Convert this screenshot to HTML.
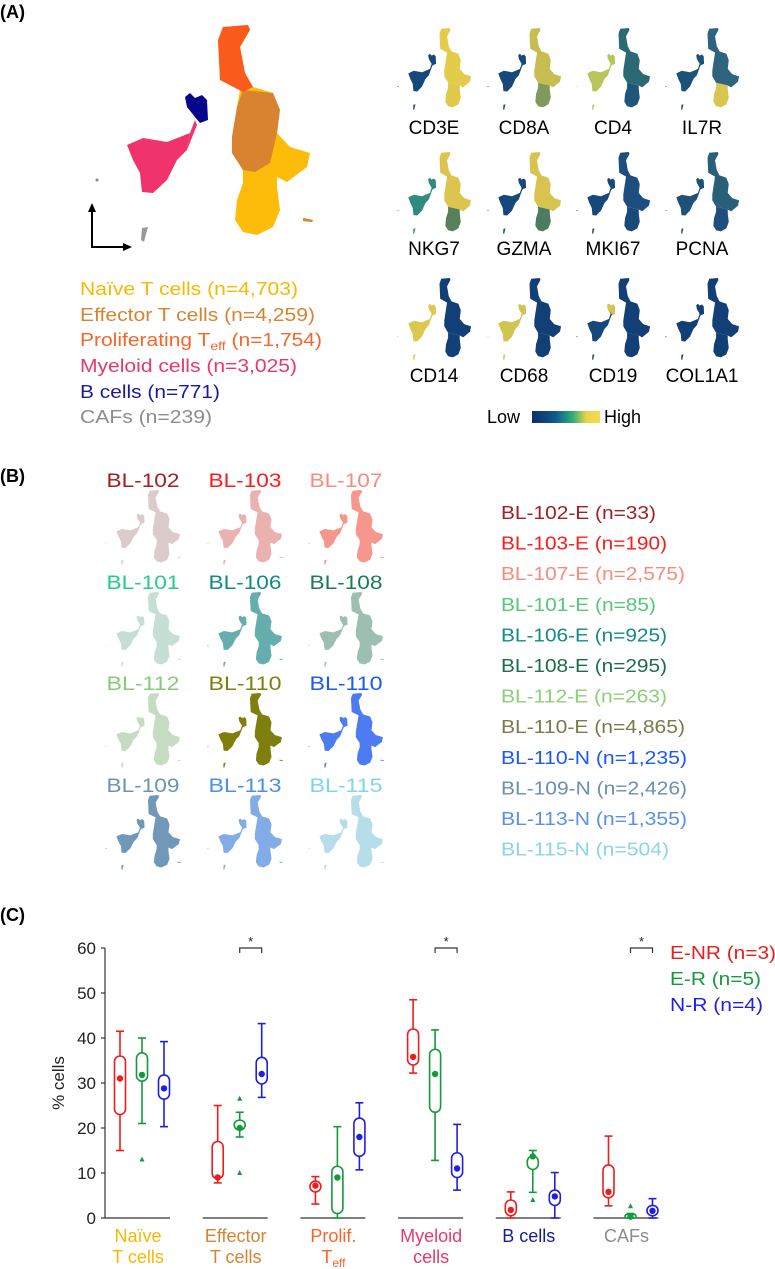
<!DOCTYPE html>
<html><head><meta charset="utf-8"><style>
html,body{margin:0;padding:0;background:#fff}
svg{display:block;font-family:"Liberation Sans",Arial,sans-serif}
</style></head><body>
<svg id="fig" width="775" height="1269" viewBox="0 0 775 1269">
<defs>
<linearGradient id="cb" x1="0" x2="1" y1="0" y2="0">
<stop offset="0" stop-color="#0b2f6a"/><stop offset="0.35" stop-color="#0d5b8c"/><stop offset="0.6" stop-color="#2fae78"/><stop offset="0.8" stop-color="#e8d448"/><stop offset="1" stop-color="#f6dc4c"/>
</linearGradient>
<symbol id="tb" overflow="visible"><path d="M223,27 L248,25 L250,30 L240,47 L245,73 L253,87 L273,93 L280,110 L277,133 L290,147 L310,153 L307,167 L287,182 L277,177 L277,187 L280,210 L273,227 L257,235 L243,232 L235,220 L237,200 L243,183 L243,170 L232,153 L232,137 L237,107 L240,90 L220,80 L218,40 Z"/><path d="M303,218 L313,220 L312,222 L303,221Z"/></symbol>
<symbol id="my" overflow="visible"><path d="M127,145 L143,138 L167,142 L180,137 L190,133 L195,120 L187,107 L185,97 L190,93 L195,98 L202,95 L207,100 L208,120 L200,123 L197,125 L187,150 L177,160 L167,180 L153,193 L142,192 L140,173 L133,160 Z"/><circle cx="97" cy="180" r="1.5"/><path d="M142,228 L148,227 L146,234 L144,242 L141,240Z"/></symbol>
<symbol id="pat" overflow="visible"><path d="M127,145 L143,138 L167,142 L180,137 L190,133 L187,150 L177,160 L167,180 L153,193 L142,192 L140,173 L133,160 Z"/></symbol>
<symbol id="nav" overflow="visible"><path d="M185,97 L190,93 L195,98 L202,95 L207,100 L208,120 L200,123 L195,117 L187,107 Z"/></symbol>
<symbol id="up" overflow="visible"><path d="M223,27 L248,25 L250,30 L240,47 L245,73 L253,87 L273,93 L280,110 L277,133 L290,147 L310,153 L307,167 L287,182 L277,177 L243,170 L232,153 L232,137 L237,107 L240,90 L220,80 L218,40 Z"/></symbol>
<symbol id="low" overflow="visible"><path d="M277,177 L277,187 L280,210 L273,227 L257,235 L243,232 L235,220 L237,200 L243,183 L243,170 Z"/></symbol>
</defs>

<text x="0" y="18" font-size="18" font-weight="bold">(A)</text>
<text x="0" y="482" font-size="18" font-weight="bold">(B)</text>
<text x="0" y="921" font-size="18" font-weight="bold">(C)</text>

<g>
<use href="#tb" fill="#fdbb0a"/>
<path d="M243,90 L273,93 L280,110 L277,133 L270,163 L255,172 L243,170 L232,153 L232,137 L237,107Z" fill="#d7832f"/>
<path d="M223,27 L248,25 L250,30 L240,47 L245,73 L253,87 L243,92 L220,80 L218,40 Z" fill="#fa5b1c"/>
<path d="M303,218 L313,220 L312,222 L303,221Z" fill="#d7832f"/>
<use href="#pat" fill="#f0336c"/>
<path d="M190,133 L195,120 L197,125 L187,150Z" fill="#f0336c"/>
<use href="#nav" fill="#06068c"/>
<circle cx="97" cy="180" r="1.5" fill="#888"/>
<path d="M142,228 L148,227 L146,234 L144,242 L141,240Z" fill="#999"/>
</g>
<g stroke="#000" stroke-width="2" fill="#000">
<path d="M92,211 L92,247 L126,247" fill="none"/>
<path d="M92,203 L88,212 L96,212Z" stroke="none"/>
<path d="M132,247 L123,243 L123,251Z" stroke="none"/>
</g>
<g font-size="18">
<text x="80" y="295" fill="#f9b800" textLength="218" lengthAdjust="spacingAndGlyphs">Naïve T cells (n=4,703)</text>
<text x="80" y="321" fill="#d7832f" textLength="235" lengthAdjust="spacingAndGlyphs">Effector T cells (n=4,259)</text>
<text x="80" y="346" fill="#f7652a" textLength="242" lengthAdjust="spacingAndGlyphs">Proliferating T<tspan font-size="12" dy="4">eff</tspan><tspan dy="-4"> (n=1,754)</tspan></text>
<text x="80" y="372" fill="#e8386b" textLength="217" lengthAdjust="spacingAndGlyphs">Myeloid cells (n=3,025)</text>
<text x="80" y="398" fill="#1a1a9a" textLength="140" lengthAdjust="spacingAndGlyphs">B cells (n=771)</text>
<text x="80" y="423" fill="#8c8c8c" textLength="132" lengthAdjust="spacingAndGlyphs">CAFs (n=239)</text>
</g>

<g id="genes"></g>
<g>
<text x="487" y="423" font-size="18">Low</text>
<rect x="532" y="411" width="68" height="12" fill="url(#cb)"/>
<text x="604" y="423" font-size="18">High</text>
</g>

<g id="samples"></g>
<g id="slegend"></g>

<g id="chart"></g>

<script>
var NS="http://www.w3.org/2000/svg";
function mk(tag,attrs,parent){var e=document.createElementNS(NS,tag);for(var k in attrs)e.setAttribute(k,attrs[k]);parent.appendChild(e);return e;}

/* ---- Panel A gene plots ---- */
var geneNames=["CD3E","CD8A","CD4","IL7R","NKG7","GZMA","MKI67","PCNA","CD14","CD68","CD19","COL1A1"];
var geneUp=["#e3cc4a","#c8bd50","#2b6a72","#2f6480","#dcc54e","#d8c34e","#1d4f7e","#2a5f7a","#123f75","#123f75","#123f75","#123f75"];
var geneLow=["#e0c84a","#7f9a5c","#1f5578","#d9c650","#587f5c","#4d7a62","#1a4a7a","#1f4f7c","#123f75","#123f75","#123f75","#123f75"];
var geneMy=["#17487a","#17487a","#b9c45a","#1c5279","#2f8a80","#17487a","#17487a","#1f5078","#dcc84e","#d2c450","#17487a","#123f75"];
var gg=document.getElementById("genes");
var gx=[398,488,577,666],gy=[28,152,278],gl=[134,255,382];
for(var i=0;i<12;i++){
  var c=i%4,r=Math.floor(i/4);
  var g=mk("g",{transform:"translate("+gx[c]+","+gy[r]+") scale(0.343,0.378) translate(-97,-25)"},gg);
  
  
  mk("use",{href:"#my",fill:geneMy[i]},g);
  mk("use",{href:"#up",fill:geneUp[i]},g);
  mk("use",{href:"#low",fill:geneLow[i]},g);
  if(i==10){mk("use",{href:"#nav",fill:"#d8c44a"},g);}
  var t=mk("text",{x:gx[c]+36,y:gl[r],"font-size":"19","text-anchor":"middle"},gg);
  
  
  t.textContent=geneNames[i];
}

/* ---- Panel B samples ---- */
var sampNames=["BL-102","BL-103","BL-107","BL-101","BL-106","BL-108","BL-112","BL-110","BL-110","BL-109","BL-113","BL-115"];
var sampColors=["#a31e22","#ff1a1a","#f98a7e","#22cc88","#138a8a","#1b7a52","#86cc78","#7f7f0e","#1b58f5","#6a93b5","#4d8fe8","#7fd4f2"];
var sampCover=[0.12,0.25,0.85,0.15,0.6,0.35,0.3,1.0,0.75,0.95,0.65,0.45];
var legNames=["BL-102-E (n=33)","BL-103-E (n=190)","BL-107-E (n=2,575)","BL-101-E (n=85)","BL-106-E (n=925)","BL-108-E (n=295)","BL-112-E (n=263)","BL-110-E (n=4,865)","BL-110-N (n=1,235)","BL-109-N (n=2,426)","BL-113-N (n=1,355)","BL-115-N (n=504)"];
var legColors=["#a31e22","#ff1a1a","#f98a7e","#55c87a","#138a8a","#1b6e48","#8ccf7a","#7a7a4a","#1b58f5","#6a8fb0","#5a90e6","#8ad4f0"];
var legWidth=[155,166,184,155,166,166,166,184,186,186,186,168];
var sg=document.getElementById("samples");
var sx=[106,208,309],sy=[490,592,693,795],sl=[487,589,690,792],sc=[143,245,346];
for(var i=0;i<12;i++){
  var c=i%3,r=Math.floor(i/3);
  var t=mk("text",{x:sc[c],y:sl[r],"font-size":"19","text-anchor":"middle",fill:sampColors[i],textLength:"73",lengthAdjust:"spacingAndGlyphs"},sg);
  
  
  t.textContent=sampNames[i];
  var g=mk("g",{transform:"translate("+sx[c]+","+sy[r]+") scale(0.347,0.345) translate(-97,-25)"},sg);
  
  
  mk("use",{href:"#tb",fill:"#e3e3e3"},g);
  mk("use",{href:"#my",fill:"#e3e3e3"},g);
  mk("use",{href:"#tb",fill:sampColors[i],"fill-opacity":sampCover[i]},g);
  mk("use",{href:"#my",fill:sampColors[i],"fill-opacity":sampCover[i]},g);
}
var lg=document.getElementById("slegend");
for(var i=0;i<12;i++){
  var t=mk("text",{x:501,y:519+30.6*i,"font-size":"18",fill:legColors[i],textLength:legWidth[i],lengthAdjust:"spacingAndGlyphs"},lg);
  
  
  t.textContent=legNames[i];
}
</script>

<script>
/* ---- Panel C box chart data ---- */
var categories=["Naïve|T cells","Effector|T cells","Prolif.|Teff","Myeloid|cells","B cells|","CAFs|"];
var catColors=["#f9b800","#d7832f","#f7652a","#e8386b","#1a1a9a","#8c8c8c"];
var seriesNames=["E-NR (n=3)","E-R (n=5)","N-R (n=4)"];
var seriesColors=["#ee1c1c","#159a3a","#1f1fe0"];
var yTicks=[0,10,20,30,40,50,60];
// whisker low, q1, q3, whisker high, mean per category
var enrLow=[15,7.8,3.1,32.2,0,2.7], enrQ1=[23,8.7,5.8,34,0.5,4.5], enrQ3=[36,17,8.2,42,4,11.8], enrHigh=[41.5,25,9.2,48.5,5.8,18.2], enrMean=[31,9,7.2,35.8,1.8,5.8];
var erLow=[21,18,0,12.8,5.7,0], erQ1=[30.4,19.6,1,23.5,10.8,0], erQ3=[36.7,21.7,11.5,37.5,13.8,0.8], erHigh=[40,23.5,20.3,41.8,15,1], erMean=[31.8,20,9,32,13.7,0.3];
var nrLow=[20.3,26.8,10.7,6.2,0,0], nrQ1=[26.4,29.8,13.7,9,2.8,0.5], nrQ3=[31.8,35.7,22.2,14.5,6.2,2.8], nrHigh=[39.2,43.2,25.6,20.8,10.1,4.3], nrMean=[28.8,32,18,11,4.8,1.6];
var erOutliers=[[13],[26.5,10],[],[],[4],[2.6]];
var sigCats=[1,3,5];

(function(){
var NS="http://www.w3.org/2000/svg";
var ch=document.getElementById("chart");
function mk(tag,attrs,par){var e=document.createElementNS(NS,tag);for(var k in attrs)e.setAttribute(k,attrs[k]);(par||ch).appendChild(e);return e;}
var yBase=1218,yTop=948,yMax=60;
function Y(v){return yBase-(v/yMax)*(yBase-yTop);}
function gX(i){return 105+i*97.7;}
var offs=[15,37,59];
var ax=mk("line",{x1:105,y1:Y(0),x2:105,y2:Y(yMax),stroke:"#333","stroke-width":"1.2"});


yTicks.forEach(function(v){
  var tk=mk("line",{x1:101,x2:105,y1:Y(v),y2:Y(v),stroke:"#333","stroke-width":"1.2"});
  
  
  var t=mk("text",{x:96,y:Y(v)+6,"font-size":"17","text-anchor":"end",fill:"#222"});
  
  
  t.textContent=v;
});
var yl=mk("text",{x:0,y:0,"font-size":"17","text-anchor":"middle",transform:"translate(64,1083) rotate(-90)",fill:"#222"});


yl.textContent="% cells";
var S=[[enrLow,enrQ1,enrQ3,enrHigh,enrMean],[erLow,erQ1,erQ3,erHigh,erMean],[nrLow,nrQ1,nrQ3,nrHigh,nrMean]];
categories.forEach(function(cat,i){
  var x0=gX(i);
  var bl=mk("line",{x1:x0,x2:x0+65,y1:Y(0),y2:Y(0),stroke:"#333","stroke-width":"1.2"});
  
  
  var parts=cat.split("|");
  var cx=x0+33;
  var t1=mk("text",{x:cx,y:1242,"font-size":"18","text-anchor":"middle",fill:catColors[i]});
  
  
  t1.textContent=parts[0];
  if(parts[1]){
    var t2=mk("text",{x:cx,y:1263,"font-size":"18","text-anchor":"middle",fill:catColors[i]});
    
    
    if(parts[1]=="Teff"){
      t2.appendChild(document.createTextNode("T"));
      var ts=mk("tspan",{"font-size":"12",dy:"4"},t2);
      ts.textContent="eff";
    } else t2.textContent=parts[1];
  }
  for(var s=0;s<3;s++){
    var d=S[s],col=seriesColors[s],x=x0+offs[s];
    var lo=d[0][i],q1=d[1][i],q3=d[2][i],hi=d[3][i],mn=d[4][i];
    var w=mk("line",{x1:x,x2:x,y1:Y(lo),y2:Y(hi),stroke:col,"stroke-width":"1.6"});
    
    
    [lo,hi].forEach(function(v){
      var cp=mk("line",{x1:x-4,x2:x+4,y1:Y(v),y2:Y(v),stroke:col,"stroke-width":"1.6"});
      
      
    });
    var h=Math.max(Y(q1)-Y(q3),0.5);
    var b=mk("rect",{x:x-5.5,y:Y(q3),width:11,height:h,rx:Math.min(5.5,h/2),ry:Math.min(5.5,h/2),fill:"#fff",stroke:col,"stroke-width":"1.6"});
    
    
    var dot=mk("circle",{cx:x,cy:Y(mn),r:3.2,fill:col});
    
    
  }
  erOutliers[i].forEach(function(v){
    var x=x0+offs[1],y=Y(v);
    var o=mk("path",{d:"M"+x+","+(y-3)+" L"+(x+2.5)+","+(y+2)+" L"+(x-2.5)+","+(y+2)+"Z",fill:seriesColors[1]});
    
    
  });
});
sigCats.forEach(function(i){
  var x1=gX(i)+offs[1],x2=gX(i)+offs[2],y=Y(yMax);
  var br=mk("path",{d:"M"+x1+","+(y+5)+" L"+x1+","+y+" L"+x2+","+y+" L"+x2+","+(y+5),fill:"none",stroke:"#333","stroke-width":"1.2"});
  
  
  var st=mk("text",{x:(x1+x2)/2,y:y-2,"font-size":"13","text-anchor":"middle",fill:"#222"});
  
  
  st.textContent="*";
});
var lw=[106,91,93];
seriesNames.forEach(function(n,s){
  var t=mk("text",{x:670,y:959+26*s,"font-size":"18",fill:seriesColors[s],textLength:lw[s],lengthAdjust:"spacingAndGlyphs"});
  
  
  t.textContent=n;
});
})();
</script>
</svg>
</body></html>
